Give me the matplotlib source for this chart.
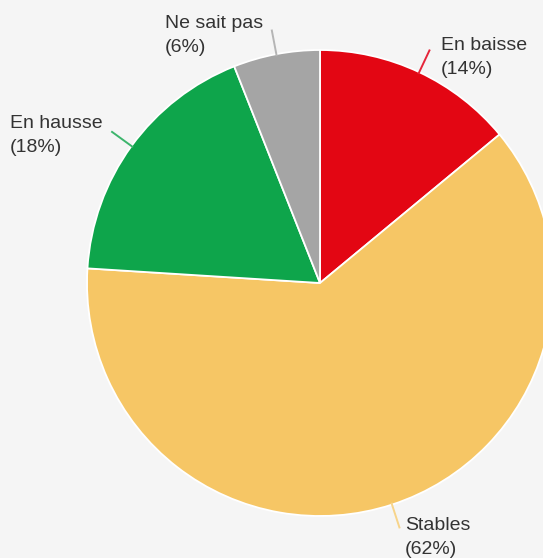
import numpy as np
import matplotlib
matplotlib.use("Agg")
import matplotlib.pyplot as plt

# Survey answers and their shares (percent)
categories = ["En baisse", "Stables", "En hausse", "Ne sait pas"]
shares = [14, 62, 18, 6]
slice_colors = ["#e30613", "#f6c665", "#0ea54b", "#a5a5a5"]
line_colors = ["#e5253a", "#f7d48a", "#3cb56c", "#b5b5b5"]

W, H = 543, 558
BG = "#f5f5f5"

fig = plt.figure(figsize=(W / 100, H / 100), dpi=100, facecolor=BG)
ax = fig.add_axes([0, 0, 1, 1])
ax.set_facecolor(BG)

cx, cy, R = 320, H - 283, 233

wedges, _ = ax.pie(
    shares,
    colors=slice_colors,
    startangle=90,
    counterclock=False,
    center=(cx, cy),
    radius=R,
    wedgeprops=dict(edgecolor="white", linewidth=1.3),
)

ax.set_xlim(0, W)
ax.set_ylim(0, H)
ax.set_aspect("auto")
ax.axis("off")

# label layout: left x and baseline of first line, in pixels from top-left
label_pos = {
    "En baisse": (441, 50),
    "Stables": (405, 530),
    "En hausse": (10, 128),
    "Ne sait pas": (165, 28),
}
line_gap = 24

for w, name, share, lc in zip(wedges, categories, shares, line_colors):
    theta = np.deg2rad((w.theta1 + w.theta2) / 2)
    r0, r1 = R - 2, R + 25
    ax.plot([cx + r0 * np.cos(theta), cx + r1 * np.cos(theta)],
            [cy + r0 * np.sin(theta), cy + r1 * np.sin(theta)],
            color=lc, lw=1.4, solid_capstyle="butt")
    x, yb = label_pos[name]
    for i, txt in enumerate([name, f"({share}%)"]):
        ax.text(x, H - (yb + i * line_gap), txt, ha="left", va="baseline",
                fontsize=14, family="Liberation Sans", color="#333333")

fig.savefig("out.png", dpi=100, facecolor=BG)
